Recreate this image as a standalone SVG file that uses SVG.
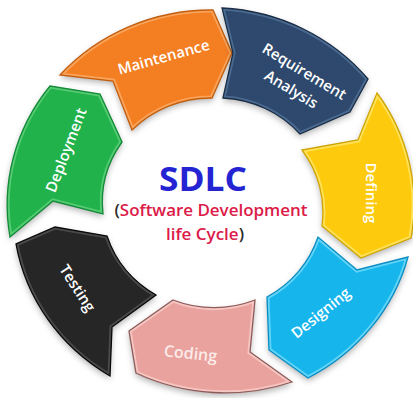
<svg xmlns="http://www.w3.org/2000/svg" xmlns:xlink="http://www.w3.org/1999/xlink" width="413" height="398" viewBox="0 0 413 398">
<style>
.lbl{font-family:"Open Sans","Liberation Sans",sans-serif;font-weight:600;font-size:15px;fill:#ffffff;text-anchor:middle}
.edge{fill:none;stroke-width:1.3}
.band{fill:none;stroke-width:5}
.ctr{font-family:"Open Sans","Liberation Sans",sans-serif;text-anchor:middle}
</style>
<defs>
<filter id="sh" x="-20%" y="-20%" width="140%" height="140%">
<feDropShadow dx="0" dy="3" stdDeviation="3" flood-color="#000" flood-opacity="0.3"/>
</filter>
<path id="p-orange" d="M60,75 A202,193 0 0 1 213,10 L232,53 L212,98 A110,106 0 0 0 132,130 L113,81 Z"/>
<path id="p-navy" d="M222,8 A202,193 0 0 1 368,79 L350,112 L300,134 A110,106 0 0 0 223,98 L233,53 Z"/>
<path id="p-yellow" d="M377,93 A202,193 0 0 1 411,238 L361,258 L322,226 A110,106 0 0 0 302,150 L358,140 Z"/>
<path id="p-blue" d="M408,257 A202,193 0 0 1 308,378 L269,350 L267,297 A110,106 0 0 0 318,237 L357,270 Z"/>
<path id="p-pink" d="M292,382 A202,193 0 0 1 136,373 L129,331 L173,300 A110,106 0 0 0 255,300 L250,352 Z"/>
<path id="p-black" d="M110,376 A202,193 0 0 1 16,244 L55,227 L107,236 A110,106 0 0 0 156,295 L112,327 Z"/>
<path id="p-green" d="M10,237 A202,193 0 0 1 50,86 L100,94 L122,142 A110,106 0 0 0 103,214 L53,201 Z"/>
<clipPath id="c-orange"><use xlink:href="#p-orange"/></clipPath>
<clipPath id="c-navy"><use xlink:href="#p-navy"/></clipPath>
<clipPath id="c-yellow"><use xlink:href="#p-yellow"/></clipPath>
<clipPath id="c-blue"><use xlink:href="#p-blue"/></clipPath>
<clipPath id="c-pink"><use xlink:href="#p-pink"/></clipPath>
<clipPath id="c-black"><use xlink:href="#p-black"/></clipPath>
<clipPath id="c-green"><use xlink:href="#p-green"/></clipPath>
</defs>
<rect width="413" height="398" fill="#ffffff"/>

<g id="maintenance">
<use xlink:href="#p-orange" fill="#F47E20" filter="url(#sh)"/>
<use xlink:href="#p-orange" class="band" stroke="#F9A45A" clip-path="url(#c-orange)"/>
<use xlink:href="#p-orange" class="edge" stroke="#C25E0E"/>
<text class="lbl" transform="translate(165,62) rotate(-15.5)">Maintenance</text>
</g>

<g id="requirement-analysis">
<use xlink:href="#p-navy" fill="#2E4A6D" filter="url(#sh)"/>
<use xlink:href="#p-navy" class="band" stroke="#4A6A90" clip-path="url(#c-navy)"/>
<use xlink:href="#p-navy" class="edge" stroke="#1B2E46"/>
<text class="lbl" transform="translate(298,82) rotate(31)"><tspan x="0" y="-7">Requirement</tspan><tspan x="-2" y="15">Analysis</tspan></text>
</g>

<g id="defining">
<use xlink:href="#p-yellow" fill="#FDCA0B" filter="url(#sh)"/>
<use xlink:href="#p-yellow" class="band" stroke="#FFE25A" clip-path="url(#c-yellow)"/>
<use xlink:href="#p-yellow" class="edge" stroke="#CFA300"/>
<text class="lbl" transform="translate(366,193) rotate(90)">Defining</text>
</g>

<g id="designing">
<use xlink:href="#p-blue" fill="#14B5EC" filter="url(#sh)"/>
<use xlink:href="#p-blue" class="band" stroke="#62D4F8" clip-path="url(#c-blue)"/>
<use xlink:href="#p-blue" class="edge" stroke="#0B8CC2"/>
<text class="lbl" transform="translate(324,317) rotate(-39)">Designing</text>
</g>

<g id="coding">
<use xlink:href="#p-pink" fill="#EAA29E" filter="url(#sh)"/>
<use xlink:href="#p-pink" class="band" stroke="#F5C6C2" clip-path="url(#c-pink)"/>
<use xlink:href="#p-pink" class="edge" stroke="#8E5B58"/>
<text class="lbl" style="font-size:16px;fill:#FBECEA" transform="translate(190,359) rotate(6)">Coding</text>
</g>

<g id="testing">
<use xlink:href="#p-black" fill="#272727" filter="url(#sh)"/>
<use xlink:href="#p-black" class="band" stroke="#4A4A4A" clip-path="url(#c-black)"/>
<use xlink:href="#p-black" class="edge" stroke="#0A0A0A"/>
<text class="lbl" transform="translate(73,291) rotate(57)">Testing</text>
</g>

<g id="deployment">
<use xlink:href="#p-green" fill="#22B24B" filter="url(#sh)"/>
<use xlink:href="#p-green" class="band" stroke="#55CC74" clip-path="url(#c-green)"/>
<use xlink:href="#p-green" class="edge" stroke="#138A37"/>
<text class="lbl" transform="translate(71,152) rotate(-69)">Deployment</text>
</g>

<g id="connectors"/>

<g id="center">
<text class="ctr" x="203" y="191" style="font-size:34px;font-weight:700;fill:#2424D2" textLength="88" lengthAdjust="spacingAndGlyphs">SDLC</text>
<text class="ctr" x="211" y="216" style="font-size:17px;font-weight:600;fill:#DC1A48" textLength="193" lengthAdjust="spacing"><tspan fill="#2A2A2A">(</tspan>Software Development</text>
<text class="ctr" x="205" y="240" style="font-size:17px;font-weight:600;fill:#DC1A48">life Cycle<tspan fill="#2A2A2A">)</tspan></text>
</g>
</svg>
